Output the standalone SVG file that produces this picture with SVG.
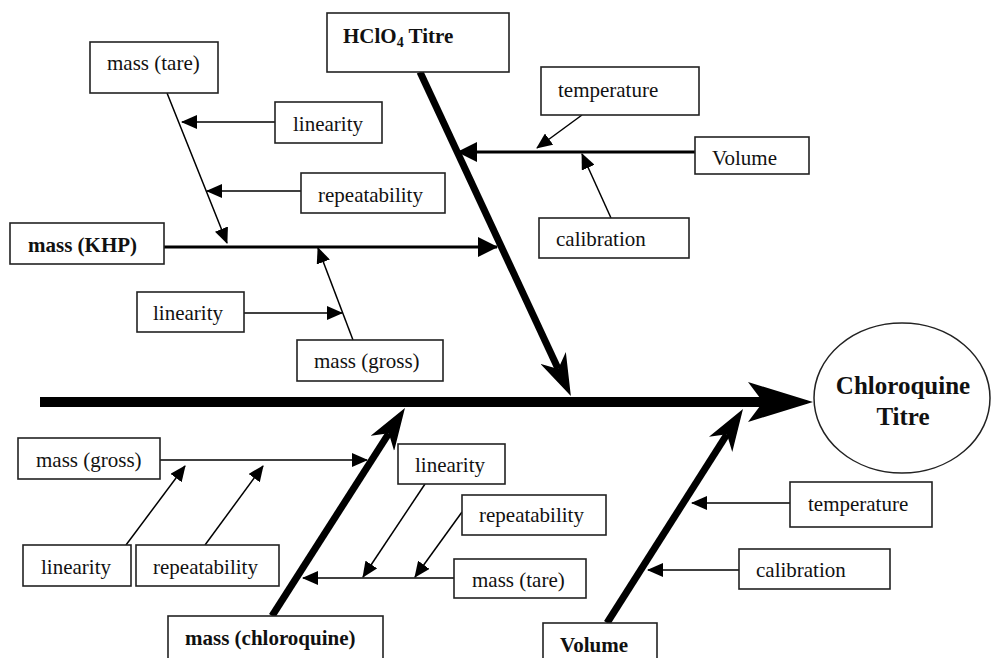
<svg xmlns="http://www.w3.org/2000/svg" width="991" height="658" viewBox="0 0 991 658">
<defs>
<style>
.box{fill:#fff;stroke:#222;stroke-width:1.6}
.t{font-family:"Liberation Serif","Times New Roman",serif;font-size:21px;fill:#111}
.b{font-family:"Liberation Serif","Times New Roman",serif;font-size:21px;font-weight:bold;fill:#111}
.big{font-size:25px}
.thin{stroke:#000;stroke-width:1.5;fill:none;marker-end:url(#small)}
.med{stroke:#000;stroke-width:2.8;fill:none;marker-end:url(#med)}
.thick{stroke:#000;stroke-width:7;fill:none;marker-end:url(#barb)}
</style>
<marker id="small" viewBox="0 0 16 14" markerWidth="16" markerHeight="14" refX="15" refY="7" orient="auto" markerUnits="userSpaceOnUse"><path d="M0,0 L16,7 L0,14 z" fill="#000"/></marker>
<marker id="med" viewBox="0 0 20 20" markerWidth="20" markerHeight="20" refX="19" refY="10" orient="auto" markerUnits="userSpaceOnUse"><path d="M0,0 L20,10 L0,20 z" fill="#000"/></marker>
<marker id="barb" viewBox="0 0 42 28" markerWidth="42" markerHeight="28" refX="12" refY="14" orient="auto" markerUnits="userSpaceOnUse"><path d="M0,0 L42,14 L0,28 L12,14 z" fill="#000"/></marker>
<marker id="big" viewBox="0 0 65 40" markerWidth="65" markerHeight="40" refX="15" refY="20" orient="auto" markerUnits="userSpaceOnUse"><path d="M0,0 L65,20 L0,40 L15,20 z" fill="#000"/></marker>
</defs>
<g id="connectors">
<line x1="40" y1="402" x2="763" y2="402" stroke="#000" stroke-width="10" marker-end="url(#big)"/>
<line class="thick" x1="420" y1="72" x2="558.2" y2="368.9"/>
<line class="thick" x1="272" y1="616" x2="388.8" y2="433.3"/>
<line class="thick" x1="607" y1="623" x2="726.9" y2="434.3"/>
<line class="med" x1="164" y1="247" x2="497" y2="247"/>
<line class="med" x1="695" y1="152" x2="458" y2="152"/>
<line class="thin" x1="167" y1="93" x2="227" y2="243"/>
<line class="thin" x1="275" y1="122" x2="182" y2="122"/>
<line class="thin" x1="301" y1="191" x2="207" y2="191"/>
<line class="thin" x1="353" y1="340" x2="318" y2="248"/>
<line class="thin" x1="244" y1="313" x2="342" y2="313"/>
<line class="thin" x1="582" y1="115" x2="537" y2="148"/>
<line class="thin" x1="611" y1="218" x2="582" y2="154"/>
<line class="thin" x1="160" y1="460" x2="367" y2="460"/>
<line class="thin" x1="126" y1="545" x2="185" y2="466"/>
<line class="thin" x1="205" y1="545" x2="263" y2="466"/>
<line class="thin" x1="454" y1="578" x2="303" y2="578"/>
<line class="thin" x1="425" y1="484" x2="363" y2="577"/>
<line class="thin" x1="462" y1="512" x2="415" y2="577"/>
<line class="thin" x1="790" y1="503" x2="692" y2="503"/>
<line class="thin" x1="739" y1="570" x2="648" y2="570"/>
</g>
<g id="n-hclo4"><rect class="box" x="327" y="13" width="182" height="59"/><text class="b" x="343" y="43">HClO<tspan style="font-size:14px" dy="4">4</tspan><tspan dy="-4"> Titre</tspan></text></g>
<g id="n-mass-tare-1"><rect class="box" x="90" y="42" width="128" height="51"/><text class="t" x="107" y="70">mass (tare)</text></g>
<g id="n-linearity-1"><rect class="box" x="275" y="102" width="107" height="41"/><text class="t" x="293" y="131">linearity</text></g>
<g id="n-repeat-1"><rect class="box" x="301" y="173" width="144" height="40"/><text class="t" x="318" y="202">repeatability</text></g>
<g id="n-khp"><rect class="box" x="10" y="223" width="154" height="41"/><text class="b" x="28" y="252">mass (KHP)</text></g>
<g id="n-linearity-2"><rect class="box" x="137" y="292" width="107" height="40"/><text class="t" x="153" y="320">linearity</text></g>
<g id="n-mass-gross-1"><rect class="box" x="297" y="340" width="146" height="41"/><text class="t" x="314" y="368">mass (gross)</text></g>
<g id="n-temperature-1"><rect class="box" x="541" y="67" width="158" height="48"/><text class="t" x="558" y="97">temperature</text></g>
<g id="n-volume-1"><rect class="box" x="695" y="137" width="114" height="37"/><text class="t" x="712" y="165">Volume</text></g>
<g id="n-calibration-1"><rect class="box" x="539" y="218" width="150" height="40"/><text class="t" x="556" y="246">calibration</text></g>
<g id="n-result"><ellipse cx="902" cy="398" rx="88" ry="75" fill="#fff" stroke="#222" stroke-width="1.5"/><text class="b big" x="903" y="394" text-anchor="middle">Chloroquine</text><text class="b big" x="903" y="425" text-anchor="middle">Titre</text></g>
<g id="n-mass-gross-2"><rect class="box" x="18" y="438" width="142" height="41"/><text class="t" x="36" y="467">mass (gross)</text></g>
<g id="n-linearity-3"><rect class="box" x="23" y="545" width="108" height="41"/><text class="t" x="41" y="574">linearity</text></g>
<g id="n-repeat-3"><rect class="box" x="136" y="545" width="143" height="41"/><text class="t" x="153" y="574">repeatability</text></g>
<g id="n-chloroquine"><rect class="box" x="168" y="616" width="215" height="52"/><text class="b" x="185" y="645">mass (chloroquine)</text></g>
<g id="n-linearity-4"><rect class="box" x="398" y="444" width="107" height="40"/><text class="t" x="415" y="472">linearity</text></g>
<g id="n-repeat-4"><rect class="box" x="462" y="495" width="144" height="40"/><text class="t" x="479" y="522">repeatability</text></g>
<g id="n-mass-tare-2"><rect class="box" x="454" y="559" width="132" height="39"/><text class="t" x="472" y="587">mass (tare)</text></g>
<g id="n-temperature-2"><rect class="box" x="790" y="482" width="142" height="45"/><text class="t" x="808" y="511">temperature</text></g>
<g id="n-calibration-2"><rect class="box" x="739" y="549" width="151" height="40"/><text class="t" x="756" y="577">calibration</text></g>
<g id="n-volume-2"><rect class="box" x="543" y="623" width="114" height="50"/><text class="b" x="560" y="652">Volume</text></g>
</svg>
